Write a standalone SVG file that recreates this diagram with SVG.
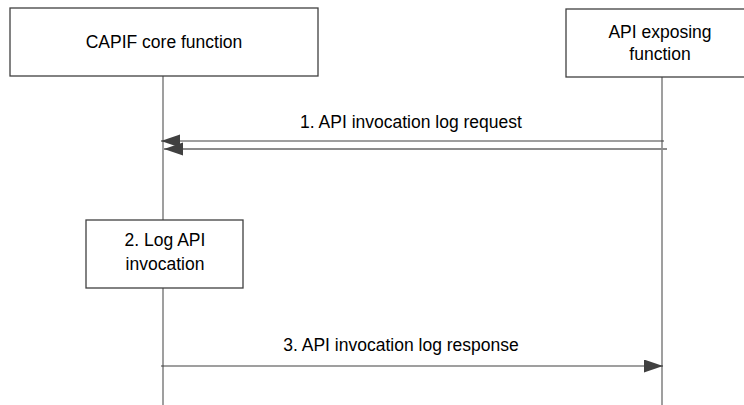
<svg xmlns="http://www.w3.org/2000/svg" width="744" height="405" viewBox="0 0 744 405">
<style>
text{font-family:"Liberation Sans",Arial,sans-serif;font-size:17.5px;fill:#000;text-anchor:middle}
.box{fill:#fff;stroke:#404040;stroke-width:1.3}
.life{stroke:#7f7f7f;stroke-width:1.5;fill:none}
.msg{stroke:#404040;stroke-width:1.2;fill:none}
.msg2{stroke:#8c8c8c;stroke-width:2;fill:none}
</style>
<defs>
<marker id="ah" markerWidth="20" markerHeight="14" refX="19" refY="6.5" orient="auto" markerUnits="userSpaceOnUse">
<path d="M0,0 L19,6.5 L0,13 Z" fill="#404040"/>
</marker>
</defs>
<g id="lifelines">
<line class="life" x1="163" y1="76" x2="163" y2="405"/>
<line class="life" x1="662" y1="77" x2="662" y2="405"/>
</g>
<g id="capif">
<rect class="box" x="10" y="8" width="308" height="68"/>
<text x="164" y="48">CAPIF core function</text>
</g>
<g id="aef">
<rect class="box" x="566" y="9" width="182" height="68"/>
<text x="660" y="38">API exposing</text>
<text x="660" y="60">function</text>
</g>
<g id="log">
<rect class="box" x="86" y="220" width="157" height="68"/>
<text x="165" y="246">2. Log API</text>
<text x="165" y="270">invocation</text>
</g>
<g id="connectors">
<line class="msg" x1="664" y1="141" x2="161" y2="141" marker-end="url(#ah)"/>
<line class="msg2" x1="667" y1="149" x2="164" y2="149" marker-end="url(#ah)"/>
<line class="msg" x1="161" y1="366" x2="663" y2="366" marker-end="url(#ah)"/>
<text x="411" y="128">1. API invocation log request</text>
<text x="401" y="351">3. API invocation log response</text>
</g>
</svg>
